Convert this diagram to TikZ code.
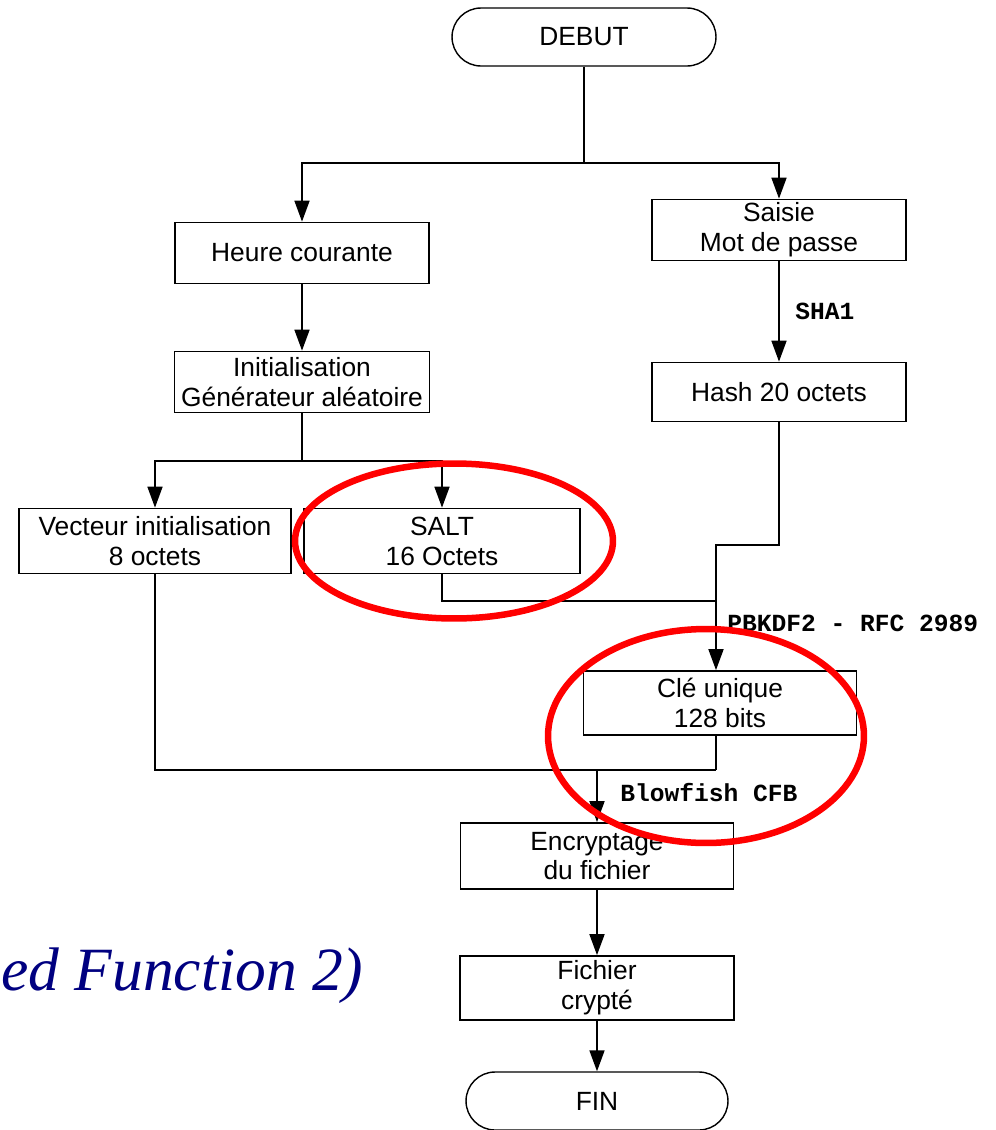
\documentclass[tikz,border=0pt]{standalone}
\usepackage{fontspec}
\setmainfont{Liberation Sans}
\newfontfamily\monofont{Liberation Mono}
\newfontfamily\serifit{Liberation Serif}
\usetikzlibrary{arrows.meta,calc}
\definecolor{navyblue}{RGB}{0,0,128}
\begin{document}
\begin{tikzpicture}[x=0.02cm,y=-0.02cm,
 box/.style={draw,line width=1pt,inner sep=0pt,align=center,font=\fontsize{15}{17}\selectfont},
 term/.style={box,rounded corners=0.58cm,line width=0.8pt},
 arr/.style={line width=1pt,-{Triangle[width=0.3cm,length=0.42cm]}},
 lnk/.style={line width=1pt},
 lbl/.style={font=\monofont\bfseries\fontsize{14}{16}\selectfont,inner sep=0pt,anchor=west},
 ring/.style={draw=red,line width=0.13cm}]
\useasboundingbox (0,0) rectangle (996,1130);
\clip (0,0) rectangle (996,1130);
\fill[white] (0,0) rectangle (996,1130);

\node[term,minimum width=5.28cm,minimum height=1.16cm] (debut) at (584,37) {DEBUT};
\node[box,minimum width=5.08cm,minimum height=1.22cm] (heure) at (302,253) {Heure courante};
\node[box,minimum width=5.10cm,minimum height=1.22cm] (init) at (302,382) {Initialisation\\Générateur aléatoire};
\node[box,minimum width=5.44cm,minimum height=1.30cm] (vec) at (155,541) {Vecteur initialisation\\8 octets};
\node[box,minimum width=5.52cm,minimum height=1.30cm] (salt) at (442,541) {SALT\\16 Octets};
\node[box,minimum width=5.08cm,minimum height=1.22cm] (saisie) at (779,230) {Saisie\\Mot de passe};
\node[box,minimum width=5.08cm,minimum height=1.18cm] (hash) at (779,392) {Hash 20 octets};
\node[box,minimum width=5.46cm,minimum height=1.28cm] (cle) at (720,703) {Clé unique\\128 bits};
\node[box,minimum width=5.46cm,minimum height=1.32cm] (enc) at (597,856) {Encryptage\\du fichier};
\node[box,minimum width=5.48cm,minimum height=1.28cm] (fic) at (597,988) {Fichier\\crypté};
\node[term,minimum width=5.24cm,minimum height=1.16cm] (fin) at (597,1101) {FIN};

\coordinate (j1) at (584,163);
\coordinate (j2) at (302,461);
\coordinate (j3) at (716,545);
\coordinate (j4) at (716,601);
\coordinate (j5) at (716,770);
\coordinate (j6) at (597,770);

\draw[lnk] (debut.south) -- (j1);
\draw[arr] (j1) -| (heure.north);
\draw[arr] (j1) -| (saisie.north);
\draw[arr] (heure.south) -- (init.north);
\draw[lnk] (init.south) -- (j2);
\draw[arr] (j2) -| (vec.north);
\draw[arr] (j2) -| (salt.north);
\draw[arr] (saisie.south) -- (hash.north);
\draw[arr] (hash.south) |- (j3) -- (j3 |- cle.north);
\draw[lnk] (salt.south) |- (j4);
\draw[lnk] (vec.south) |- (j5);
\draw[lnk] (cle.south -| j5) -- (j5);
\draw[arr] (j6) -- (j6 |- enc.north);
\draw[arr] (enc.south) -- (fic.north);
\draw[arr] (fic.south) -- (fin.north);

\node[lbl] (sha) at (795,311) {SHA1};
\node[lbl] (pbk) at (727,623) {PBKDF2 - RFC 2989};
\node[lbl] (blow) at (620,793) {Blowfish CFB};

\node[font=\serifit\itshape\fontsize{35}{40}\selectfont,text=navyblue,anchor=base west,inner sep=0pt] (title) at (1,990) {ed Function 2)};

\draw[ring] (454,541) ellipse [x radius=3.18cm, y radius=1.55cm];
\draw[ring] (706,736) ellipse [x radius=3.16cm, y radius=2.14cm];
\end{tikzpicture}
\end{document}
